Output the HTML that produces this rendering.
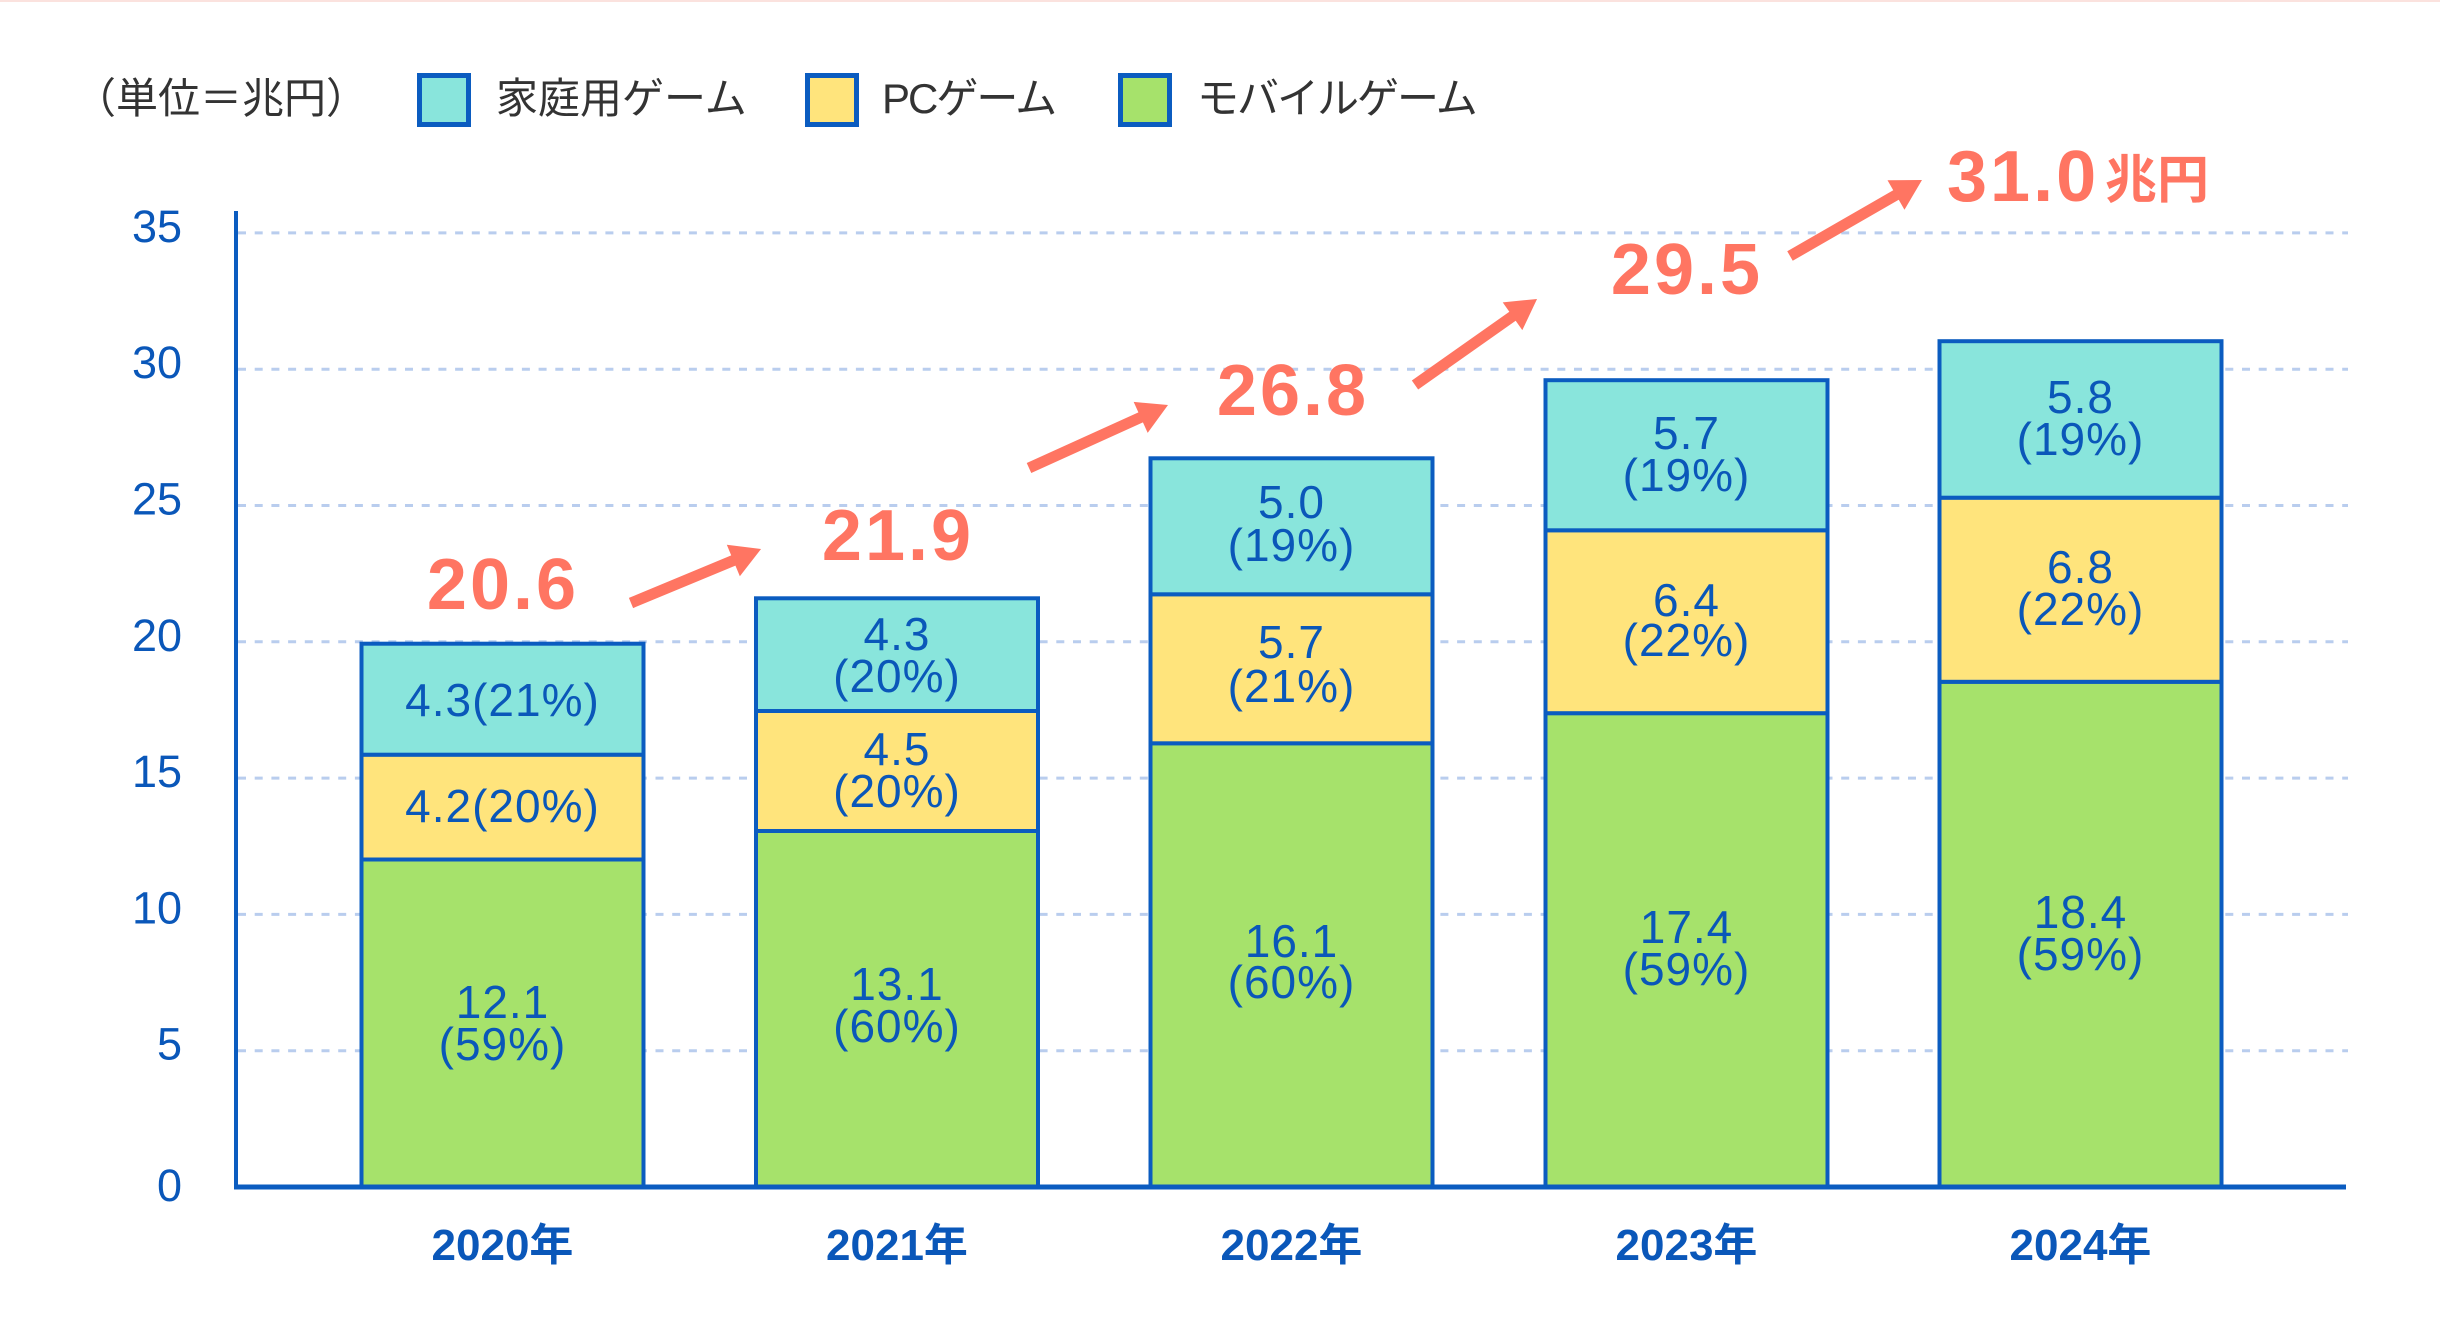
<!DOCTYPE html>
<html>
<head>
<meta charset="utf-8">
<style>
html,body{margin:0;padding:0;background:#ffffff;}
svg{display:block;}
.tick{font-family:"Liberation Sans","Noto Sans CJK JP",sans-serif;font-size:45px;fill:#0a57b9;}
.lbl{font-family:"Liberation Sans","Noto Sans CJK JP",sans-serif;font-size:46px;fill:#0a57b9;letter-spacing:1px;}
.xl{font-family:"Liberation Sans","Noto Sans CJK JP",sans-serif;font-size:44px;font-weight:bold;fill:#0a57b9;}
.ann{font-family:"Liberation Sans","Noto Sans CJK JP",sans-serif;font-size:72px;font-weight:bold;fill:#ff7562;letter-spacing:3px;}
.leg{font-family:"Liberation Sans","Noto Sans CJK JP",sans-serif;font-size:42px;fill:#333333;}
</style>
</head>
<body>
<svg width="2440" height="1323" viewBox="0 0 2440 1323" xmlns="http://www.w3.org/2000/svg">
<rect x="0" y="0" width="2440" height="1323" fill="#ffffff"/>
<rect x="0" y="0" width="2440" height="2" fill="#fbe2de"/>

<!-- Legend -->
<text class="leg" x="74" y="113">（単位＝兆円）</text>
<rect x="419.5" y="75.5" width="49" height="49" fill="#89e5dc" stroke="#0b5cc0" stroke-width="5"/>
<text class="leg" x="496" y="113">家庭用ゲーム</text>
<rect x="807.5" y="75.5" width="49" height="49" fill="#ffe47c" stroke="#0b5cc0" stroke-width="5"/>
<text class="leg" x="882" y="113" letter-spacing="-2">PCゲーム</text>
<rect x="1120.5" y="75.5" width="49" height="49" fill="#a6e26b" stroke="#0b5cc0" stroke-width="5"/>
<text class="leg" x="1197" y="113" letter-spacing="-2">モバイルゲーム</text>

<!-- Gridlines -->
<g stroke="#b9cdee" stroke-width="3" stroke-dasharray="8 8.7">
<line x1="238" y1="232.9" x2="2348" y2="232.9"/>
<line x1="238" y1="369.2" x2="2348" y2="369.2"/>
<line x1="238" y1="505.5" x2="2348" y2="505.5"/>
<line x1="238" y1="641.8" x2="2348" y2="641.8"/>
<line x1="238" y1="778.1" x2="2348" y2="778.1"/>
<line x1="238" y1="914.4" x2="2348" y2="914.4"/>
<line x1="238" y1="1050.7" x2="2348" y2="1050.7"/>
</g>

<!-- Y tick labels -->
<g class="tick" text-anchor="end">
<text x="182" y="242">35</text>
<text x="182" y="378">30</text>
<text x="182" y="514.5">25</text>
<text x="182" y="651">20</text>
<text x="182" y="787">15</text>
<text x="182" y="923.5">10</text>
<text x="182" y="1059.7">5</text>
<text x="182" y="1201">0</text>
</g>

<!-- Bars -->
<g stroke="#0b5cc0" stroke-width="4">
<rect x="361.5" y="859.5" width="282" height="327.5" fill="#a6e26b"/>
<rect x="361.5" y="754.7" width="282" height="104.8" fill="#ffe47c"/>
<rect x="361.5" y="643.7" width="282" height="111" fill="#89e5dc"/>
<rect x="756" y="831" width="282" height="356" fill="#a6e26b"/>
<rect x="756" y="711" width="282" height="120" fill="#ffe47c"/>
<rect x="756" y="598.3" width="282" height="112.7" fill="#89e5dc"/>
<rect x="1150.5" y="743.3" width="282" height="443.7" fill="#a6e26b"/>
<rect x="1150.5" y="594.3" width="282" height="149" fill="#ffe47c"/>
<rect x="1150.5" y="458.3" width="282" height="136" fill="#89e5dc"/>
<rect x="1545.5" y="713.2" width="282" height="473.8" fill="#a6e26b"/>
<rect x="1545.5" y="530.3" width="282" height="182.9" fill="#ffe47c"/>
<rect x="1545.5" y="380.2" width="282" height="150.1" fill="#89e5dc"/>
<rect x="1939.5" y="681.8" width="282" height="505.2" fill="#a6e26b"/>
<rect x="1939.5" y="497.7" width="282" height="184.1" fill="#ffe47c"/>
<rect x="1939.5" y="341.2" width="282" height="156.5" fill="#89e5dc"/>
</g>

<!-- Axes -->
<line x1="236" y1="211" x2="236" y2="1189" stroke="#0b5cc0" stroke-width="4"/>
<line x1="234" y1="1187" x2="2346" y2="1187" stroke="#0b5cc0" stroke-width="5"/>

<!-- Bar labels -->
<g class="lbl" text-anchor="middle">
<text x="502.5" y="716">4.3(21%)</text>
<text x="502.5" y="822">4.2(20%)</text>
<text x="502.5" y="1018">12.1</text>
<text x="502.5" y="1060">(59%)</text>
<text x="897" y="650">4.3</text>
<text x="897" y="692">(20%)</text>
<text x="897" y="765">4.5</text>
<text x="897" y="807">(20%)</text>
<text x="897" y="1000">13.1</text>
<text x="897" y="1042">(60%)</text>
<text x="1291.5" y="518">5.0</text>
<text x="1291.5" y="561">(19%)</text>
<text x="1291.5" y="658">5.7</text>
<text x="1291.5" y="702">(21%)</text>
<text x="1291.5" y="957">16.1</text>
<text x="1291.5" y="998">(60%)</text>
<text x="1686.5" y="449">5.7</text>
<text x="1686.5" y="491">(19%)</text>
<text x="1686.5" y="616">6.4</text>
<text x="1686.5" y="656">(22%)</text>
<text x="1686.5" y="943">17.4</text>
<text x="1686.5" y="985">(59%)</text>
<text x="2080.5" y="413">5.8</text>
<text x="2080.5" y="455">(19%)</text>
<text x="2080.5" y="583">6.8</text>
<text x="2080.5" y="625">(22%)</text>
<text x="2080.5" y="928">18.4</text>
<text x="2080.5" y="970">(59%)</text>
</g>

<!-- X labels -->
<g class="xl" text-anchor="middle">
<text x="502.5" y="1260">2020年</text>
<text x="897" y="1260">2021年</text>
<text x="1291.5" y="1260">2022年</text>
<text x="1686.5" y="1260">2023年</text>
<text x="2080.5" y="1260">2024年</text>
</g>

<!-- Annotations -->
<g class="ann">
<text x="503" y="609" text-anchor="middle">20.6</text>
<text x="898" y="560" text-anchor="middle">21.9</text>
<text x="1293" y="415" text-anchor="middle">26.8</text>
<text x="1687" y="294" text-anchor="middle">29.5</text>
<text x="1947" y="201">31.0</text>
</g>
<text x="2105" y="198" font-family="'Liberation Sans','Noto Sans CJK JP',sans-serif" font-size="52" font-weight="bold" fill="#ff7562">兆円</text>

<!-- Arrows -->
<g fill="#ff7562">
<g transform="translate(631,603) rotate(-22.55)">
<polygon points="0,-5.5 110.8,-5.5 110.8,-17 140.8,0 110.8,17 110.8,5.5 0,5.5"/>
</g>
<g transform="translate(1029,468) rotate(-24.38)">
<polygon points="0,-5.5 122.6,-5.5 122.6,-17 152.6,0 122.6,17 122.6,5.5 0,5.5"/>
</g>
<g transform="translate(1415,385) rotate(-35.18)">
<polygon points="0,-5.5 119.3,-5.5 119.3,-17 149.3,0 119.3,17 119.3,5.5 0,5.5"/>
</g>
<g transform="translate(1790,256) rotate(-29.93)">
<polygon points="0,-5.5 122.3,-5.5 122.3,-17 152.3,0 122.3,17 122.3,5.5 0,5.5"/>
</g>
</g>
</svg>
</body>
</html>
